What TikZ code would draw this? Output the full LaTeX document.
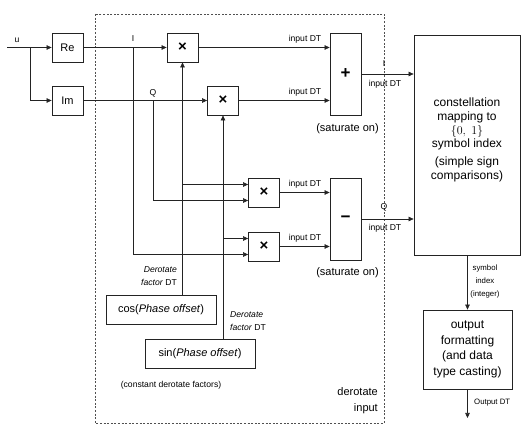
\documentclass[tikz,border=0pt]{standalone}
\usepackage{fontspec}
\setmainfont{Liberation Sans}
\usepackage{amsmath}
\usepackage{tikz}
\usetikzlibrary{arrows.meta,positioning}
\definecolor{dmline}{RGB}{35,35,35}
\definecolor{dmdash}{RGB}{80,80,80}
\tikzset{
  dmblock/.style={draw=dmline, line width=0.8pt, fill=white, inner sep=0pt,
    align=center},
  dmmul/.style={dmblock, minimum width=31pt, minimum height=29pt,
    font=\fontsize{15}{15}\selectfont\bfseries},
  dmsum/.style={dmblock, minimum width=31pt, minimum height=82pt,
    font=\fontsize{17}{17}\selectfont\bfseries},
  dmfunc/.style={dmblock, minimum width=31pt, minimum height=29pt,
    font=\fontsize{11}{13}\selectfont},
  dmconst/.style={dmblock, minimum width=110pt, minimum height=29pt,
    font=\fontsize{11}{13}\selectfont},
  dmtext/.style={align=center, inner sep=0pt, font=\fontsize{12}{13.8}\selectfont},
  dmsmall/.style={inner sep=0pt, font=\fontsize{8.6}{13}\selectfont},
  dmnote/.style={inner sep=0pt, font=\fontsize{11}{16}\selectfont},
  dmarrow/.style={-{Triangle[length=5pt,width=4.5pt]}, draw=dmline, line width=0.6pt}
}

\begin{document}
\begin{tikzpicture}[x=1pt,y=-1pt]
  \useasboundingbox (0,0) rectangle (531,435);
  % derotate subsystem
  \draw[draw=dmdash, line width=0.6pt, dash pattern=on 2pt off 1.6pt] (95,14) rectangle (384,423);

  \node[dmfunc] (re) at (67.5,47.5) {Re};
  \node[dmfunc] (im) at (67.5,100.5) {Im};
  \node[dmmul] (mulA) at (182.5,47.5) {×};
  \node[dmmul] (mulB) at (223,100.5) {×};
  \node[dmmul] (mulC) at (264,192.5) {×};
  \node[dmmul] (mulD) at (264,246.5) {×};
  \node[dmsum] (sum) at (345.5,74) {+};
  \node[dmsum] (dif) at (345.5,219) {−};
  \node[dmconst] (cosB) at (161,309.5) {$\cos$(\textit{Phase offset})};
  \node[dmconst] (sinB) at (200,353.5) {$\sin$(\textit{Phase offset})};
  \node[dmblock, minimum width=106pt, minimum height=220pt] (map) at (467,145) {};
  \node[dmtext] (mapTxt) at (467,140) {constellation\\mapping to\\$\{0,\ 1\}$\\symbol index\\[4pt](simple sign\\comparisons)};
  \node[dmblock, dmtext, font=\fontsize{12}{15.5}\selectfont, minimum width=89pt,
    minimum height=79pt] (fmt) at (467.5,349.5) {output\\formatting\\(and data\\type casting)};

  % labels
  \node[dmsmall] (uLbl) at (17,40) {u};
  \node[dmsmall] (iLbl) at (133,39) {I};
  \node[dmsmall] (qLbl) at (153,93) {Q};
  \node[dmsmall] (dtA) at (305,39.5) {input DT};
  \node[dmsmall] (dtB) at (305,92.5) {input DT};
  \node[dmsmall] (dtC) at (305,184.5) {input DT};
  \node[dmsmall] (dtD) at (305,238.5) {input DT};
  \node[dmsmall] (iOut) at (384,63.5) {I};
  \node[dmsmall] (qOut) at (384,207) {Q};
  \node[dmsmall] (dtI) at (385,84) {input DT};
  \node[dmsmall] (dtQ) at (385,228) {input DT};
  \node[dmnote] (satA) at (347.5,128.5) {(saturate on)};
  \node[dmnote] (satB) at (347.5,272.5) {(saturate on)};
  \node[dmsmall, align=right, anchor=east] (cosDT) at (177,276.5) {\textit{Derotate}\\\textit{factor} DT};
  \node[dmsmall, align=left, anchor=west] (sinDT) at (230,321.5) {\textit{Derotate}\\\textit{factor} DT};
  \node[dmsmall] (constLbl) at (171,385) {(constant derotate factors)};
  \node[dmnote, align=right, anchor=east] (derotLbl) at (378,401) {derotate\\input};
  \node[dmsmall, align=center, font=\fontsize{7.8}{13}\selectfont] (symLbl) at (485,281) {symbol\\index\\(integer)};
  \node[dmsmall, font=\fontsize{7.8}{13}\selectfont, anchor=west] (outLbl) at (474,403) {Output DT};

  % connectors
  \coordinate (uIn) at (7,47.5);
  \coordinate (uB) at (30,47.5);
  \coordinate (iB) at (133,47.5);
  \coordinate (qB) at (153,100.5);
  \coordinate (fmtOut) at (467.5,418);
  \draw[dmarrow] (uIn) -- (re.west);
  \draw[dmarrow] (uB) |- (im.west);
  \draw[dmarrow] (re.east) -- (mulA.west);
  \draw[dmarrow] (im.east) -- (mulB.west);
  \draw[dmarrow] (iB) |- ([yshift=-8pt]mulD.west);
  \draw[dmarrow] (qB) |- ([yshift=-8pt]mulC.west);
  \draw[dmarrow] (mulA.south |- cosB.north) -- (mulA.south);
  \draw[dmarrow] (mulA.south |- cosB.north) |- ([yshift=8pt]mulC.west);
  \draw[dmarrow] (mulB.south |- sinB.north) -- (mulB.south);
  \draw[dmarrow] (mulB.south |- sinB.north) |- ([yshift=8pt]mulD.west);
  \draw[dmarrow] (mulA.east) -- (mulA.east -| sum.west);
  \draw[dmarrow] (mulB.east) -- (mulB.east -| sum.west);
  \draw[dmarrow] (mulC.east) -- (mulC.east -| dif.west);
  \draw[dmarrow] (mulD.east) -- (mulD.east -| dif.west);
  \draw[dmarrow] (sum.east) -- (sum.east -| map.west);
  \draw[dmarrow] (dif.east) -- (dif.east -| map.west);
  \draw[dmarrow] (map.south -| fmt.north) -- (fmt.north);
  \draw[dmarrow] (fmt.south) -- (fmtOut);
\end{tikzpicture}
\end{document}
